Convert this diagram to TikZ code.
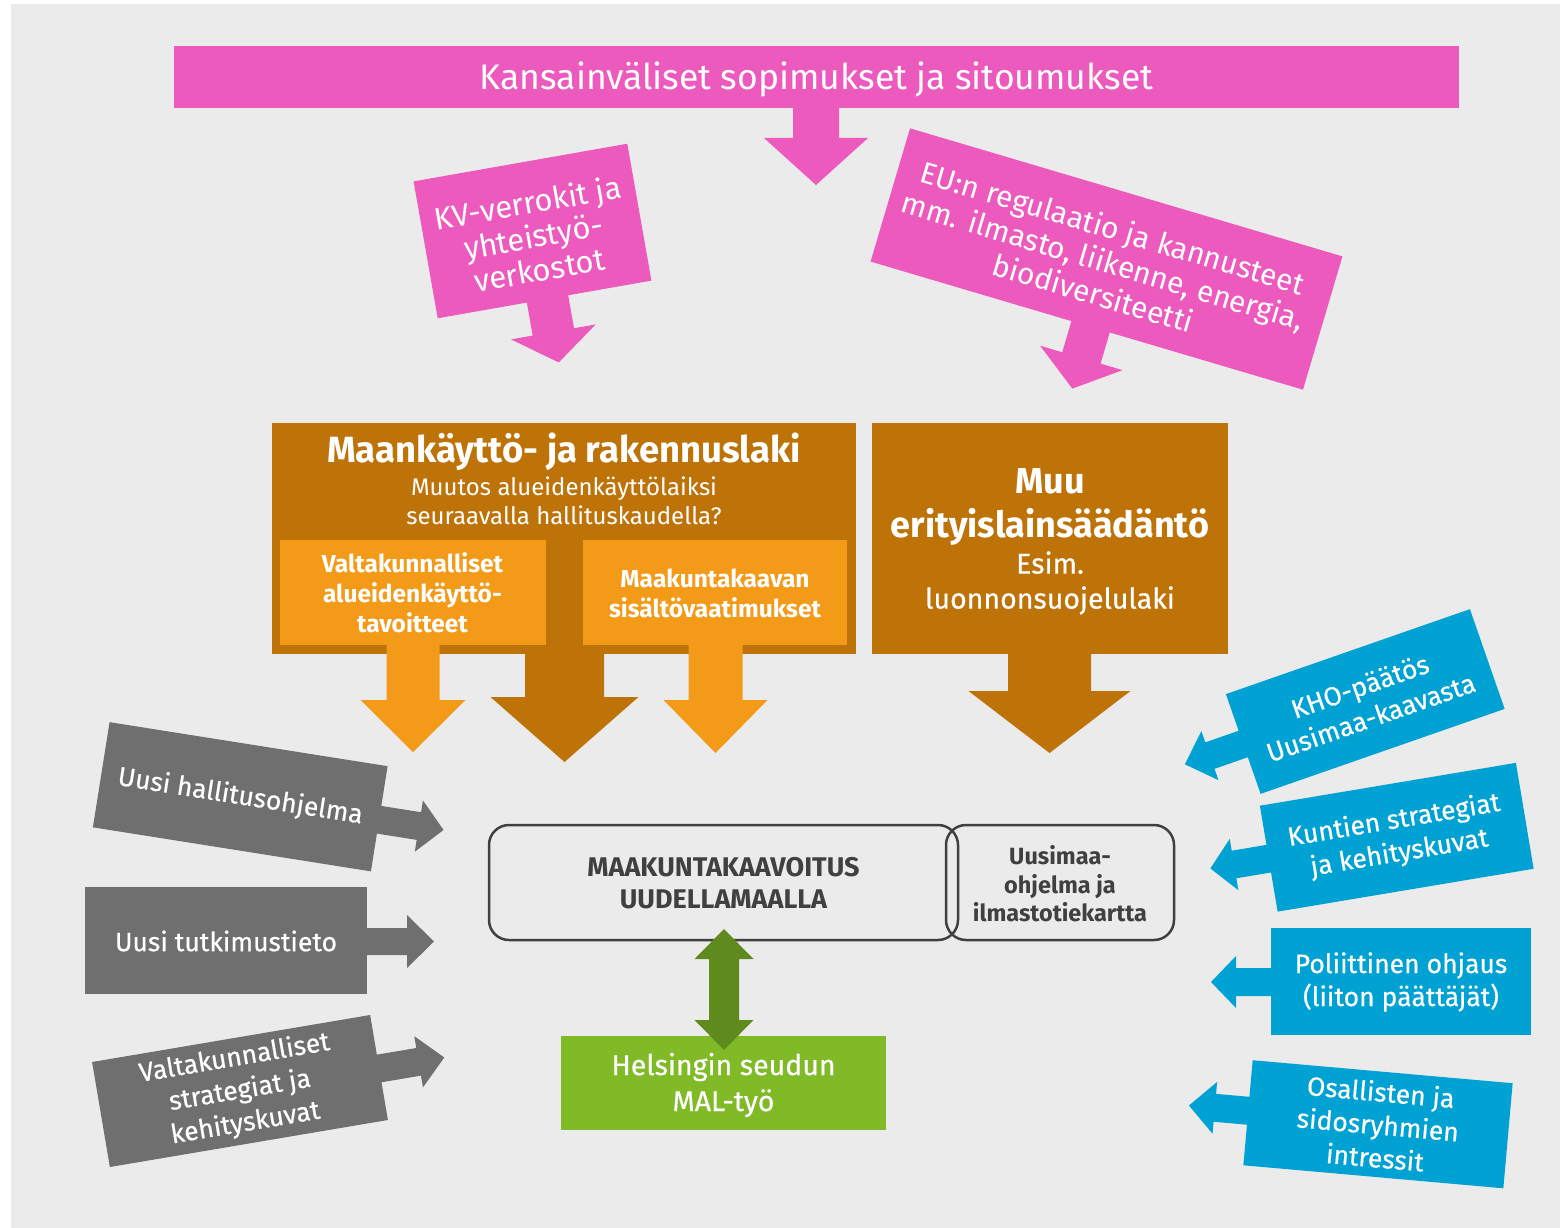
\documentclass[tikz,border=0pt]{standalone}
\usepackage{fontspec}
\setmainfont{Fira Sans}
\newfontfamily\medfont{Fira Sans}[FakeBold=0.5]
\definecolor{cbg}{HTML}{EBEBEB}
\definecolor{cpink}{HTML}{EC5ABE}
\definecolor{cbrown}{HTML}{BE7309}
\definecolor{corange}{HTML}{F39A18}
\definecolor{cgray}{HTML}{6F6F6F}
\definecolor{cblue}{HTML}{00A1D3}
\definecolor{cgreen}{HTML}{80BA27}
\definecolor{cdgreen}{HTML}{5F8B1E}
\definecolor{cdark}{HTML}{404040}
% down block arrow: cx, shaft half, head half, ytop, ybase, ytip, colour
\newcommand\dnarrow[7]{%
\fill[#7] ({#1-#2},#4) -- ({#1+#2},#4) -- ({#1+#2},#5) -- ({#1+#3},#5) -- (#1,#6) -- ({#1-#3},#5) -- ({#1-#2},#5) -- cycle;}
% horizontal block arrow: cy, shaft half, head half, xstart, xbase, xtip, colour
\newcommand\hzarrow[7]{%
\fill[#7] (#4,{#1-#2}) -- (#5,{#1-#2}) -- (#5,{#1-#3}) -- (#6,#1) -- (#5,{#1+#3}) -- (#5,{#1+#2}) -- (#4,{#1+#2}) -- cycle;}
\tikzset{
  panel/.style={inner sep=0pt, outer sep=0pt, align=center, text=white},
  sidetxt/.style={font=\medfont\fontsize{26.5}{33}\selectfont},
  frame/.style={draw=cdark, line width=2.5pt, rounded corners=20pt, inner sep=0pt, align=center, text=cdark},
}
\begin{document}
\begin{tikzpicture}[x=1pt,y=-1pt]
\fill[white] (0,0) rectangle (1560,1228);
\fill[cbg] (11,4) rectangle (1560,1228);
\useasboundingbox (0,0) rectangle (1560,1228);

% top bar
\node[panel, fill=cpink, minimum width=1285pt, minimum height=62pt] (intl) at (816.5,77) {};
\node[panel, font=\fontsize{35.5}{40}\selectfont] (intlt) at (816.5,79) {Kansainväliset sopimukset ja sitoumukset};
\dnarrow{816}{23}{52}{107}{138}{185}{cpink}

% KV box
\begin{scope}[shift={(532.5,231)}, rotate=10, transform shape]
\node[panel, fill=cpink, minimum width=217pt, minimum height=139pt] (kv) at (0,0) {};
\node[panel, font=\fontsize{31}{34}\selectfont] (kvt) at (0,5) {KV-verrokit ja\\yhteistyö-\\verkostot};
\dnarrow{3}{21}{43}{68}{103}{134}{cpink}
\end{scope}

% EU box
\begin{scope}[shift={(1106.5,259)}, rotate=-16.5, transform shape]
\node[panel, fill=cpink, minimum width=451pt, minimum height=139pt] (eu) at (0,0) {};
\node[panel, font=\fontsize{30}{34}\selectfont] (eut) at (-3,2) {EU:n regulaatio ja kannusteet\\mm. ilmasto, liikenne, energia,\\biodiversiteetti};
\dnarrow{4}{20}{43}{68}{102}{134}{cpink}
\end{scope}

% Maankäyttö- ja rakennuslaki
\node[panel, fill=cbrown, minimum width=584pt, minimum height=231pt] (mrl) at (564,538.5) {};
\node[panel, font=\bfseries\fontsize{36.5}{40}\selectfont] (mrlt) at (564,452) {Maankäyttö- ja rakennuslaki};
\node[panel, font=\fontsize{24}{29}\selectfont] (mrls) at (564,501) {Muutos alueidenkäyttölaiksi\\seuraavalla hallituskaudella?};
\node[panel, fill=corange, minimum width=266pt, minimum height=105pt] (vat) at (412.5,592.5) {};
\node[panel, font=\bfseries\fontsize{24.5}{30}\selectfont] (vatt) at (412.5,593) {Valtakunnalliset\\alueidenkäyttö-\\tavoitteet};
\node[panel, fill=corange, minimum width=264pt, minimum height=105pt] (msv) at (715,592.5) {};
\node[panel, font=\bfseries\fontsize{24.5}{30}\selectfont] (msvt) at (715,593) {Maakuntakaavan\\sisältövaatimukset};
\dnarrow{413}{26.5}{52.5}{644}{700}{752}{corange}
\dnarrow{564.5}{39.5}{74}{653}{697}{762}{cbrown}
\dnarrow{715.5}{27}{52}{644}{700}{753}{corange}

% Muu erityislainsäädäntö
\node[panel, fill=cbrown, minimum width=356pt, minimum height=231pt] (muu) at (1050,538.5) {};
\node[panel, font=\bfseries\fontsize{36}{44}\selectfont] (muut) at (1050,507) {Muu\\erityislainsäädäntö};
\node[panel, font=\medfont\fontsize{28.5}{35}\selectfont] (muus) at (1050,583) {Esim.\\luonnonsuojelulaki};
\dnarrow{1049.5}{41.5}{81}{653}{691}{753}{cbrown}

% gray boxes (left)
\begin{scope}[shift={(240.25,796.75)}, rotate=-9, transform shape]
\node[panel, fill=cgray, minimum width=281.5pt, minimum height=106.5pt] (uho) at (0,0) {};
\node[panel, sidetxt] (uhot) at (0,0) {Uusi hallitusohjelma};
\hzarrow{1}{14}{26}{139}{181}{206}{cgray}
\end{scope}
\node[panel, fill=cgray, minimum width=282pt, minimum height=107pt] (utt) at (226,940.5) {};
\node[panel, sidetxt] (uttt) at (226,941) {Uusi tutkimustieto};
\hzarrow{941.5}{13.5}{26.5}{366}{407}{434}{cgray}
\begin{scope}[shift={(240,1091)}, rotate=9.6, transform shape]
\node[panel, fill=cgray, minimum width=282pt, minimum height=106.5pt] (vsk) at (0,0) {};
\node[panel, sidetxt] (vskt) at (0,0) {Valtakunnalliset\\strategiat ja\\kehityskuvat};
\hzarrow{1}{14}{26}{140}{181}{207}{cgray}
\end{scope}

% blue boxes (right)
\begin{scope}[shift={(1365.25,701.5)}, rotate=19.2, transform shape]
\node[panel, fill=cblue, minimum width=258.4pt, minimum height=105.6pt] (kho) at (0,0) {};
\node[panel, sidetxt] (khot) at (0,0) {KHO-päätös\\Uusimaa-kaavasta};
\hzarrow{0}{14}{26}{-128}{-164.5}{-191}{cblue}
\end{scope}
\begin{scope}[shift={(1396.75,837.25)}, rotate=9.5, transform shape]
\node[panel, fill=cblue, minimum width=259.6pt, minimum height=107.4pt] (kst) at (0,0) {};
\node[panel, sidetxt] (kstt) at (0,0) {Kuntien strategiat\\ja kehityskuvat};
\hzarrow{0}{14}{26}{-129}{-165}{-189}{cblue}
\end{scope}
\node[panel, fill=cblue, minimum width=260pt, minimum height=107pt] (pol) at (1401,981.5) {};
\node[panel, sidetxt] (polt) at (1401,982) {Poliittinen ohjaus\\(liiton päättäjät)};
\hzarrow{982}{14}{26}{1272}{1236}{1211}{cblue}
\begin{scope}[shift={(1378,1124.25)}, rotate=-5.06, transform shape]
\node[panel, fill=cblue, minimum width=261pt, minimum height=105.5pt] (osa) at (0,0) {};
\node[panel, sidetxt] (osat) at (0,0) {Osallisten ja\\sidosryhmien\\intressit};
\hzarrow{-2}{14}{26}{-129}{-164}{-190}{cblue}
\end{scope}

% central boxes
\node[frame, minimum width=469pt, minimum height=115pt] (mkk) at (723.5,882.5) {};
\node[panel, text=cdark, font=\bfseries\fontsize{27}{32}\selectfont] (mkkt) at (723.5,883) {MAAKUNTAKAAVOITUS\\UUDELLAMAALLA};
\node[frame, minimum width=228pt, minimum height=115pt] (uom) at (1060,882.5) {};
\node[panel, text=cdark, font=\bfseries\fontsize{23.5}{28.5}\selectfont] (uomt) at (1060,884) {Uusimaa-\\ohjelma ja\\ilmastotiekartta};

% green box and double arrow
\node[panel, fill=cgreen, minimum width=325pt, minimum height=94pt] (mal) at (723.5,1083) {};
\node[panel, font=\medfont\fontsize{28.5}{36}\selectfont] (malt) at (723.5,1085) {Helsingin seudun\\MAL-työ};
\fill[cdgreen] (724,929) -- (753.5,959) -- (739,959) -- (739,1020) -- (753.5,1020) -- (724,1050)
  -- (694.5,1020) -- (709,1020) -- (709,959) -- (694.5,959) -- cycle;
\end{tikzpicture}
\end{document}
